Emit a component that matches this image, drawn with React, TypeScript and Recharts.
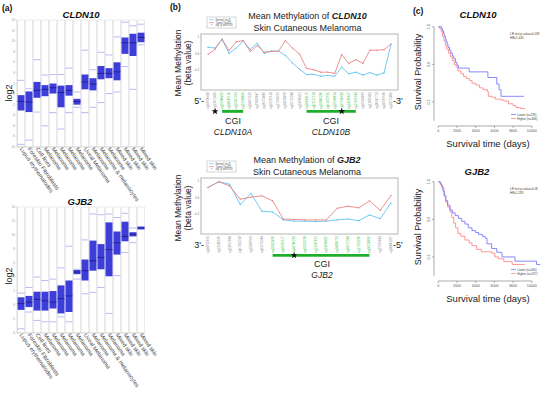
import React from 'react';
import {
  ComposedChart, Bar, Scatter, XAxis, YAxis, LineChart, Line,
  ReferenceArea, ReferenceDot, ReferenceLine,
} from 'recharts';

const FONT = '"Liberation Sans", Arial, Helvetica, sans-serif';

// ---------- (a) expression box plots ----------
const tissues = [
  'Lupus erythematodes', 'Foreskin Fibroblasts', 'Cell lines', 'Melanoma', 'Melanoma',
  'Melanoma', 'Melanoma', 'Melanoma', 'Uveal Melanoma', 'Melanoma',
  'Melanoma & melanocytes', 'Melanoma', 'Mixed skin', 'Mixed skin', 'Mixed skin', 'Mixed skin',
];
const cldnQ1 = [-3.1, -3.4, -0.7, -0.4, 0.1, -2.5, -0.3, -2.0, 0.9, 0.7, 2.8, 3.0, 2.6, 7.6, 7.2, 9.8];
const cldnQ3 = [-0.2, 0.5, 2.3, 1.7, 2.0, 1.6, 1.7, -0.9, 3.7, 3.0, 5.3, 4.9, 6.0, 10.7, 11.4, 11.6];
const cldnMed = [-1.4, -1.5, 0.7, 0.9, 1.2, 0.3, 0.7, -1.4, 2.3, 1.9, 3.9, 3.9, 4.2, 9.7, 9.7, 10.7];
const cldnMin = [-9.5, -8.7, -3.4, -6.0, -3.5, -6.6, -3.5, -2.5, -3.5, -2.5, -1.6, 0.1, 0.4, 5.2, 0.9, 9.3];
const cldnMax = [2.6, 1.0, 6.5, 3.6, 3.7, 3.7, 4.9, 0.4, 8.3, 4.6, 7.9, 7.4, 10.8, 13.6, 12.9, 13.2];
const cldnTicks = [-10, -8, -6, -4, -2, 0, 2, 4, 6, 8, 10, 12, 14];

const gjbQ1 = [-0.7, -0.3, -0.8, -0.8, -0.5, -1.2, -1.0, 4.4, 3.5, 4.9, 5.1, 4.1, 7.2, 9.1, 9.8, 10.8];
const gjbQ3 = [1.1, 1.3, 1.9, 1.9, 2.0, 2.8, 3.5, 5.0, 6.5, 9.2, 8.7, 11.8, 10.5, 11.9, 10.4, 11.2];
const gjbMed = [0.2, 0.4, 0.8, 0.6, 0.4, 0.9, 1.3, 4.7, 4.9, 6.3, 6.8, 7.9, 8.9, 9.8, 10.1, 11.0];
const gjbMin = [-3.4, -1.0, -2.2, -2.4, -2.4, -1.7, -2.4, 3.7, 1.6, 1.8, 2.5, -1.2, 4.2, 7.5, 8.9, 10.8];
const gjbMax = [1.7, 2.5, 4.0, 3.5, 3.7, 5.3, 8.4, 5.1, 9.3, 13.0, 12.9, 13.0, 12.5, 13.1, 11.0, 11.2];
const gjbTicks = [-4, -2, 0, 2, 4, 6, 8, 10, 12, 14];

// ---------- (b) methylation ----------
const cldnProbes = [
  'cg03920418', 'cg12071456', 'cg26340892', 'cg08549120', 'cg15437361', 'cg21983006', 'cg04471532',
  'cg19826047', 'cg10273885', 'cg02269133', 'cg17654219', 'cg24518870', 'cg06712348', 'cg13390451',
  'cg25083176', 'cg09127564', 'cg16845390', 'cg01472925', 'cg22368014', 'cg07930682', 'cg14582037',
  'cg27016543', 'cg05318869', 'cg11895402', 'cg20647713', 'cg18239950', 'cg23751806',
];
const cldnNormal = [0.75, 0.73, 0.94, 0.60, 0.73, 0.90, 0.70, 0.85, 0.60, 0.66, 0.66, 0.55, 0.37, 0.22, 0.09, 0.10, 0.05, 0.07, 0.05, 0.27, 0.11, 0.15, 0.08, 0.14, 0.08, 0.13, 0.82];
const cldnTumor = [0.58, 0.70, 0.95, 0.67, 0.88, 0.91, 0.65, 0.79, 0.63, 0.65, 0.65, 0.91, 0.73, 0.59, 0.24, 0.21, 0.15, 0.15, 0.12, 0.57, 0.36, 0.45, 0.36, 0.68, 0.68, 0.69, 0.83];
const cldnIslands = [[2, 5], [14, 21]];
const cldnStars = [1, 19];

const gjbProbes = [
  'cg04925061', 'cg12186539', 'cg23017864', 'cg07462218', 'cg15839902', 'cg01276344',
  'cg26413870', 'cg09355127', 'cg18740263', 'cg02631598', 'cg21547019', 'cg13068425',
  'cg24850731', 'cg06197284', 'cg17392650', 'cg10528816', 'cg27619043', 'cg08841357',
];
const gjbNormal = [0.84, 0.98, 0.92, 0.43, 0.70, 0.27, 0.25, 0.06, 0.03, 0.03, 0.02, 0.03, 0.06, 0.08, 0.04, 0.18, 0.09, 0.47];
const gjbTumor = [0.84, 0.98, 0.88, 0.56, 0.61, 0.64, 0.52, 0.08, 0.07, 0.06, 0.06, 0.06, 0.34, 0.39, 0.35, 0.52, 0.29, 0.65];
const gjbIslands = [[6, 15]];
const gjbStars = [8];
const methTicks = [0, 0.2, 0.4, 0.6, 0.8, 1];

// ---------- (c) survival ----------
const kmTimeTicks = [0, 2000, 4000, 6000, 8000, 10000];
const kmProbTicks = [0, 0.2, 0.4, 0.6, 0.8, 1];
const cldnLowT = [0, 350, 450, 550, 650, 750, 850, 950, 1050, 1200, 1350, 1500, 1650, 1850, 2000, 2150, 3300, 5300, 6250, 6500, 6700, 9150];
const cldnLowS = [1, 0.98, 0.96, 0.93, 0.90, 0.87, 0.84, 0.81, 0.78, 0.75, 0.72, 0.69, 0.66, 0.62, 0.59, 0.56, 0.52, 0.46, 0.39, 0.33, 0.26, 0.26];
const cldnHighT = [0, 150, 300, 450, 600, 750, 900, 1100, 1300, 1500, 1700, 1900, 2100, 2400, 2700, 3000, 3300, 3600, 4000, 4400, 4800, 5250, 5350, 5700, 6100, 6700, 7000, 7500, 8000, 8300, 8800, 9200];
const cldnHighS = [1, 0.98, 0.95, 0.90, 0.85, 0.80, 0.76, 0.72, 0.68, 0.64, 0.60, 0.57, 0.53, 0.50, 0.47, 0.45, 0.43, 0.40, 0.38, 0.35, 0.33, 0.31, 0.26, 0.25, 0.23, 0.22, 0.21, 0.18, 0.16, 0.14, 0.13, 0.12];
const gjbLowT = [0, 200, 350, 500, 650, 800, 1000, 1250, 1500, 1800, 2150, 2500, 2850, 3200, 3600, 4000, 4300, 4700, 5000, 5200, 5700, 6250, 6800, 8200, 10500, 10900];
const gjbLowS = [1, 0.98, 0.95, 0.90, 0.85, 0.80, 0.75, 0.70, 0.67, 0.64, 0.61, 0.58, 0.55, 0.51, 0.48, 0.46, 0.44, 0.42, 0.40, 0.34, 0.29, 0.25, 0.20, 0.155, 0.12, 0.12];
const gjbHighT = [0, 200, 400, 600, 800, 1000, 1250, 1450, 1650, 1850, 2100, 2400, 2850, 3300, 3600, 4100, 4600, 5700, 6050, 6450, 7000, 7900, 9250];
const gjbHighS = [1, 0.97, 0.93, 0.85, 0.78, 0.73, 0.68, 0.62, 0.56, 0.51, 0.45, 0.42, 0.38, 0.35, 0.32, 0.28, 0.255, 0.24, 0.20, 0.18, 0.15, 0.12, 0.12];

// ---------- helpers ----------
const BOX_BLUE = '#3d3dd9';
const NORMAL_C = '#62c4f2';
const TUMOR_C = '#ec8585';
const KM_BLUE = '#7a7aff';
const KM_RED = '#ff8a8a';
const CGI_GREEN = '#1fae2a';

const TissueTick = (p: any) => {
  const tx = p.x - 1.5;
  const ty = p.y + 2;
  return (
    <text x={tx} y={ty} transform={`rotate(55 ${tx} ${ty})`} fontSize={5.6} fill="#444" textAnchor="start">
      {tissues[p.payload.value]}
    </text>
  );
};

const whiskerShape = (p: any) => (
  <line x1={p.cx - 3.5} x2={p.cx + 3.5} y1={p.cy} y2={p.cy} stroke="#9d9df2" strokeWidth={0.7} />
);
const medianShape = (p: any) => (
  <line x1={p.cx - 3.5} x2={p.cx + 3.5} y1={p.cy} y2={p.cy} stroke="#1b1b80" strokeWidth={0.8} />
);

function BoxPanel(props: any) {
  const { top, q1, q3, med, lo, hi, domain, ticks, xh } = props;
  const data = tissues.map((_, i) => ({ idx: i, box: [q1[i], q3[i]], med: med[i], lo: lo[i], hi: hi[i] }));
  return (
    <div style={{ position: 'absolute', left: 0, top, width: 190, height: 207 }}>
      <ComposedChart width={190} height={207} data={data} margin={{ top: 20, right: 45, bottom: 7, left: 5 }} barCategoryGap={0.5}>
        <XAxis dataKey="idx" type="category" interval={0} height={xh} tick={TissueTick} tickLine={false} tickSize={0} tickMargin={0}
          axisLine={{ stroke: '#c8c8c8', strokeWidth: 0.6 }} />
        <YAxis type="number" domain={domain} ticks={ticks} allowDataOverflow interval={0} width={12}
          tick={{ fontSize: 3, fill: '#999' }} tickSize={1.5} tickMargin={0.5}
          tickLine={{ stroke: '#c8c8c8', strokeWidth: 0.5 }} axisLine={{ stroke: '#c8c8c8', strokeWidth: 0.6 }} />
        <Bar dataKey="box" fill={BOX_BLUE} isAnimationActive={false}
          background={{ fill: '#ffffff', stroke: '#d4d4d4', strokeWidth: 0.5 }} />
        <Scatter dataKey="hi" shape={whiskerShape} isAnimationActive={false} />
        <Scatter dataKey="lo" shape={whiskerShape} isAnimationActive={false} />
        <Scatter dataKey="med" shape={medianShape} isAnimationActive={false} />
      </ComposedChart>
    </div>
  );
}

const makeProbeTick = (probes: string[], islands: number[][]) => (p: any) => {
  const i = probes.indexOf(p.payload.value);
  const green = islands.some(([a, b]) => i >= a && i <= b);
  const tx = p.x + 1;
  const ty = p.y + 1;
  return (
    <text x={tx} y={ty} transform={`rotate(-90 ${tx} ${ty})`} fontSize={3} fill={green ? '#3fbf4a' : '#8a8a8a'} textAnchor="end">
      {p.payload.value}
    </text>
  );
};

const starShape = (p: any) => {
  const r1 = 3.6, r2 = 1.5;
  const pts: string[] = [];
  for (let k = 0; k < 10; k++) {
    const r = k % 2 === 0 ? r1 : r2;
    const a = -Math.PI / 2 + (k * Math.PI) / 5;
    pts.push(`${p.cx + r * Math.cos(a)},${p.cy + r * Math.sin(a)}`);
  }
  return <polygon points={pts.join(' ')} fill="#111" />;
};

function MethPanel(props: any) {
  const { top, probes, normal, tumor, islands, stars } = props;
  const data = probes.map((pr: string, i: number) => ({ probe: pr, normal: normal[i], tumor: tumor[i] }));
  return (
    <div style={{ position: 'absolute', left: 190, top, width: 215, height: 130 }}>
      <LineChart width={215} height={130} data={data} margin={{ top: 34, right: 7, bottom: 0, left: 3 }}>
        <XAxis dataKey="probe" interval={0} height={40} tick={makeProbeTick(probes, islands)} tickLine={false}
          tickSize={0} tickMargin={1} axisLine={false} padding={{ left: 7, right: 7 }} />
        <YAxis type="number" domain={[-0.28, 1.07]} ticks={methTicks} allowDataOverflow width={8} axisLine={false}
          tick={{ fontSize: 3, fill: '#777' }} tickSize={1.2} tickMargin={0.6} tickLine={{ stroke: '#999', strokeWidth: 0.4 }}
          tickFormatter={(v: number) => (v === 0 || v === 1 ? String(v) : v.toFixed(1))} />
        <Line dataKey="normal" stroke={NORMAL_C} strokeWidth={0.9} isAnimationActive={false}
          dot={{ r: 0.7, fill: NORMAL_C, stroke: 'none' }} />
        <Line dataKey="tumor" stroke={TUMOR_C} strokeWidth={0.9} isAnimationActive={false}
          dot={{ r: 0.7, fill: TUMOR_C, stroke: 'none' }} />
        {islands.map(([a, b]: number[], k: number) => (
          <ReferenceArea key={`i${k}`} x1={probes[a]} x2={probes[b]} y1={-0.76} y2={-0.83}
            fill={CGI_GREEN} fillOpacity={1} stroke="none" ifOverflow="visible" />
        ))}
        {stars.map((s: number, k: number) => (
          <ReferenceDot key={`s${k}`} x={probes[s]} y={-0.795} r={3} shape={starShape} ifOverflow="visible" />
        ))}
      </LineChart>
    </div>
  );
}

const ProbTick = (p: any) => {
  const tx = p.x - 0.5;
  const ty = p.y;
  return (
    <text x={tx} y={ty} transform={`rotate(-90 ${tx} ${ty})`} fontSize={3.6} fill="#555" textAnchor="middle">
      {Number(p.payload.value).toFixed(1)}
    </text>
  );
};

function KMPanel(props: any) {
  const { top, lowT, lowS, highT, highS } = props;
  const low = lowT.map((t: number, i: number) => ({ t, s: lowS[i] }));
  const high = highT.map((t: number, i: number) => ({ t, s: highS[i] }));
  return (
    <div style={{ position: 'absolute', left: 400, top, width: 150, height: 160 }}>
      <LineChart width={150} height={160} margin={{ top: 23, right: 6, bottom: 0, left: 20 }}>
        <XAxis type="number" dataKey="t" domain={[-460, 11300]} ticks={kmTimeTicks} allowDataOverflow height={34}
          axisLine={false} tickSize={1.8} tickMargin={1.5} tickLine={{ stroke: '#555', strokeWidth: 0.5 }}
          tick={{ fontSize: 3.6, fill: '#555' }} />
        <YAxis type="number" dataKey="s" domain={[-0.056, 1.04]} ticks={kmProbTicks} allowDataOverflow width={14}
          axisLine={false} tickSize={1.8} tickMargin={1.5} tickLine={{ stroke: '#555', strokeWidth: 0.5 }} tick={ProbTick} />
        <ReferenceLine segment={[{ x: 0, y: -0.056 }, { x: 10000, y: -0.056 }]} stroke="#555" strokeWidth={0.5} ifOverflow="visible" />
        <ReferenceLine segment={[{ x: -460, y: 0 }, { x: -460, y: 1 }]} stroke="#555" strokeWidth={0.5} ifOverflow="visible" />
        <Line data={high} dataKey="s" type="stepAfter" stroke={KM_RED} strokeWidth={0.9} dot={false} isAnimationActive={false} />
        <Line data={low} dataKey="s" type="stepAfter" stroke={KM_BLUE} strokeWidth={0.9} dot={false} isAnimationActive={false} />
      </LineChart>
    </div>
  );
}

function Overlay() {
  const rot = (x: number, y: number) => `rotate(-90 ${x} ${y})`;
  const methLegend = (y0: number) => (
    <g>
      <rect x={207} y={y0} width={29} height={11} fill="#fff" stroke="#999" strokeWidth={0.4} />
      <line x1={209} x2={214} y1={y0 + 2.7} y2={y0 + 2.7} stroke={NORMAL_C} strokeWidth={0.7} />
      <text x={215.5} y={y0 + 3.6} fontSize={2.6} fill="#555">Normal (n=2)</text>
      <line x1={209} x2={214} y1={y0 + 5.6} y2={y0 + 5.6} stroke={TUMOR_C} strokeWidth={0.7} />
      <text x={215.5} y={y0 + 6.5} fontSize={2.6} fill="#555">Tumor (n=92)</text>
      <text x={211.5} y={y0 + 9.8} fontSize={3.2} fill="#333" textAnchor="middle">*</text>
      <text x={215.5} y={y0 + 9.4} fontSize={2.6} fill="#555">adj. p-val&lt;0.05</text>
    </g>
  );
  return (
    <svg width={550} height={394} style={{ position: 'absolute', left: 0, top: 0, pointerEvents: 'none', fontFamily: FONT }}>
      {/* (a) */}
      <text x={2} y={11} fontSize={8.5} fontWeight="bold" fill="#111">(a)</text>
      <text x={81} y={17.5} fontSize={9.5} fontWeight="bold" fontStyle="italic" textAnchor="middle" fill="#111">CLDN10</text>
      <text x={11.5} y={93} fontSize={9} textAnchor="middle" transform={rot(11.5, 93)} fill="#222">log2</text>
      <text x={80} y={205} fontSize={9.5} fontWeight="bold" fontStyle="italic" textAnchor="middle" fill="#111">GJB2</text>
      <text x={11.5} y={276} fontSize={9} textAnchor="middle" transform={rot(11.5, 276)} fill="#222">log2</text>

      {/* (b) */}
      <text x={170} y={10} fontSize={8.5} fontWeight="bold" fill="#111">(b)</text>
      <text x={181} y={63} fontSize={8.5} textAnchor="middle" transform={rot(181, 63)} fill="#222">Mean Methylation</text>
      <text x={190.5} y={63} fontSize={8.5} textAnchor="middle" transform={rot(190.5, 63)} fill="#222">(beta value)</text>
      <text x={181} y={208} fontSize={8.5} textAnchor="middle" transform={rot(181, 208)} fill="#222">Mean Methylation</text>
      <text x={190.5} y={208} fontSize={8.5} textAnchor="middle" transform={rot(190.5, 208)} fill="#222">(beta value)</text>

      <text x={307.5} y={19} fontSize={9} textAnchor="middle" fill="#222">Mean Methylation of <tspan fontWeight="bold" fontStyle="italic">CLDN10</tspan></text>
      <text x={307.5} y={30.5} fontSize={9} textAnchor="middle" fill="#222">Skin Cutaneous Melanoma</text>
      {methLegend(17)}
      <rect x={201} y={34} width={197} height={56} fill="none" stroke="#a3a3a3" strokeWidth={0.8} />
      <text x={204} y={104} fontSize={9} textAnchor="end" fill="#222">5'-</text>
      <text x={393} y={104} fontSize={9} textAnchor="start" fill="#222">-3'</text>
      <text x={233} y={124} fontSize={9} textAnchor="middle" fill="#222">CGI</text>
      <text x={233} y={135} fontSize={8.5} fontStyle="italic" textAnchor="middle" fill="#222">CLDN10A</text>
      <text x={331} y={124} fontSize={9} textAnchor="middle" fill="#222">CGI</text>
      <text x={331} y={135} fontSize={8.5} fontStyle="italic" textAnchor="middle" fill="#222">CLDN10B</text>

      <text x={307} y={163} fontSize={9} textAnchor="middle" fill="#222">Mean Methylation of <tspan fontWeight="bold" fontStyle="italic">GJB2</tspan></text>
      <text x={307} y={174.5} fontSize={9} textAnchor="middle" fill="#222">Skin Cutaneous Melanoma</text>
      {methLegend(161)}
      <rect x={201} y={178} width={197} height={56} fill="none" stroke="#a3a3a3" strokeWidth={0.8} />
      <text x={204} y={248} fontSize={9} textAnchor="end" fill="#222">3'-</text>
      <text x={393} y={248} fontSize={9} textAnchor="start" fill="#222">-5'</text>
      <text x={322} y={267} fontSize={9} textAnchor="middle" fill="#222">CGI</text>
      <text x={322} y={278} fontSize={8.5} fontStyle="italic" textAnchor="middle" fill="#222">GJB2</text>

      {/* (c) */}
      <text x={413} y={14} fontSize={8.5} fontWeight="bold" fill="#111">(c)</text>
      <text x={478} y={18} fontSize={9.5} fontWeight="bold" fontStyle="italic" textAnchor="middle" fill="#111">CLDN10</text>
      <text x={420.5} y={72} fontSize={9} textAnchor="middle" transform={rot(420.5, 72)} fill="#222">Survival Probability</text>
      <text x={488} y={147} fontSize={9.5} textAnchor="middle" fill="#222">Survival time (days)</text>
      <text x={510} y={34.5} fontSize={3} fill="#444">LR test p-value=0.038</text>
      <text x={510} y={38.5} fontSize={3} fill="#444">HR=1.445</text>
      <line x1={511} x2={516} y1={114.5} y2={114.5} stroke={KM_BLUE} strokeWidth={0.8} />
      <text x={517.3} y={115.6} fontSize={3} fill="#444">Lower (n=118)</text>
      <line x1={511} x2={516} y1={118.5} y2={118.5} stroke={KM_RED} strokeWidth={0.8} />
      <text x={517.3} y={119.6} fontSize={3} fill="#444">Higher (n=346)</text>

      <text x={477} y={175} fontSize={9.5} fontWeight="bold" fontStyle="italic" textAnchor="middle" fill="#111">GJB2</text>
      <text x={420.5} y={227} fontSize={9} textAnchor="middle" transform={rot(420.5, 227)} fill="#222">Survival Probability</text>
      <text x={488} y={302} fontSize={9.5} textAnchor="middle" fill="#222">Survival time (days)</text>
      <text x={510} y={189.5} fontSize={3} fill="#444">LR test p-value=0.08</text>
      <text x={510} y={193.5} fontSize={3} fill="#444">HR=1.285</text>
      <line x1={511} x2={516} y1={269.5} y2={269.5} stroke={KM_BLUE} strokeWidth={0.8} />
      <text x={517.3} y={270.6} fontSize={3} fill="#444">Lower (n=305)</text>
      <line x1={511} x2={516} y1={273.5} y2={273.5} stroke={KM_RED} strokeWidth={0.8} />
      <text x={517.3} y={274.6} fontSize={3} fill="#444">Higher (n=137)</text>
    </svg>
  );
}

export default function App() {
  return (
    <div style={{ position: 'absolute', left: 0, top: 0, width: 550, height: 394, background: '#fff', fontFamily: FONT, overflow: 'hidden' }}>
      <BoxPanel top={0} q1={cldnQ1} q3={cldnQ3} med={cldnMed} lo={cldnMin} hi={cldnMax} domain={[-10, 14]} ticks={cldnTicks} xh={53} />
      <BoxPanel top={187} q1={gjbQ1} q3={gjbQ3} med={gjbMed} lo={gjbMin} hi={gjbMax} domain={[-4, 14]} ticks={gjbTicks} xh={54} />
      <MethPanel top={0} probes={cldnProbes} normal={cldnNormal} tumor={cldnTumor} islands={cldnIslands} stars={cldnStars} />
      <MethPanel top={144} probes={gjbProbes} normal={gjbNormal} tumor={gjbTumor} islands={gjbIslands} stars={gjbStars} />
      <KMPanel top={0} lowT={cldnLowT} lowS={cldnLowS} highT={cldnHighT} highS={cldnHighS} />
      <KMPanel top={155} lowT={gjbLowT} lowS={gjbLowS} highT={gjbHighT} highS={gjbHighS} />
      <Overlay />
    </div>
  );
}
